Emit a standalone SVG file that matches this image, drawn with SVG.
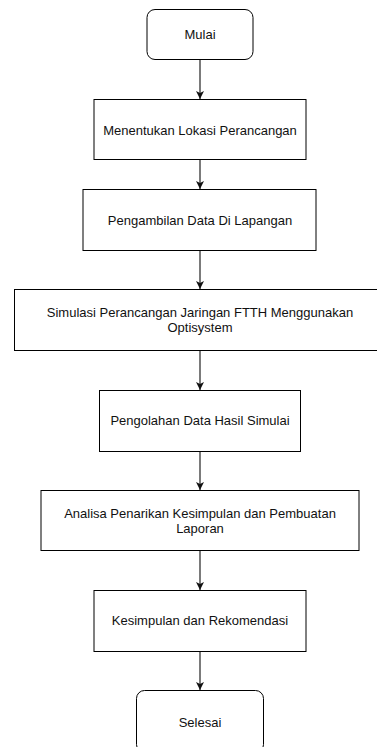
<svg xmlns="http://www.w3.org/2000/svg" width="377" height="747" viewBox="0 0 377 747">
<defs>
<style>
.box{fill:#fff;stroke:#000;stroke-width:1}
.lbl{font-family:"Liberation Sans",Arial,sans-serif;font-size:13px;fill:#111;text-anchor:middle}
.edge{stroke:#333;stroke-width:1.3;fill:none}
</style>
<marker id="arr" markerWidth="10" markerHeight="10" refX="8" refY="4" orient="auto" markerUnits="userSpaceOnUse">
<path d="M0,0 L8,4 L0,8 L2,4 Z" fill="#111"/>
</marker>
</defs>
<rect width="377" height="747" fill="#fff"/>
<g id="connectors">
<line class="edge" x1="200" y1="59.5" x2="200" y2="99" marker-end="url(#arr)"/>
<line class="edge" x1="200" y1="159.5" x2="200" y2="189" marker-end="url(#arr)"/>
<line class="edge" x1="200" y1="250.5" x2="200" y2="289" marker-end="url(#arr)"/>
<line class="edge" x1="200" y1="350.5" x2="200" y2="390" marker-end="url(#arr)"/>
<line class="edge" x1="200" y1="451.5" x2="200" y2="490" marker-end="url(#arr)"/>
<line class="edge" x1="200" y1="550.5" x2="200" y2="590" marker-end="url(#arr)"/>
<line class="edge" x1="200" y1="651.5" x2="200" y2="690" marker-end="url(#arr)"/>
</g>
<g id="mulai">
<rect class="box" x="147" y="9.5" width="106" height="50" rx="8"/>
<text class="lbl" x="200" y="38.5">Mulai</text>
</g>
<g id="lokasi">
<rect class="box" x="94" y="99.5" width="212" height="60"/>
<text class="lbl" x="200" y="134.5">Menentukan Lokasi Perancangan</text>
</g>
<g id="data">
<rect class="box" x="83" y="189.5" width="233" height="61"/>
<text class="lbl" x="200" y="224.5">Pengambilan Data Di Lapangan</text>
</g>
<g id="simulasi">
<rect class="box" x="14.5" y="289.5" width="372" height="61"/>
<text class="lbl" x="200" y="317">Simulasi Perancangan Jaringan FTTH Menggunakan</text>
<text class="lbl" x="200" y="332">Optisystem</text>
</g>
<g id="pengolahan">
<rect class="box" x="99.5" y="390.5" width="201" height="61"/>
<text class="lbl" x="200" y="425">Pengolahan Data Hasil Simulai</text>
</g>
<g id="analisa">
<rect class="box" x="41" y="490.5" width="318" height="60"/>
<text class="lbl" x="200" y="518">Analisa Penarikan Kesimpulan dan Pembuatan</text>
<text class="lbl" x="200" y="533">Laporan</text>
</g>
<g id="kesimpulan">
<rect class="box" x="94" y="590.5" width="212" height="61"/>
<text class="lbl" x="200" y="625">Kesimpulan dan Rekomendasi</text>
</g>
<g id="selesai">
<rect class="box" x="136.5" y="690.5" width="127" height="62" rx="8"/>
<text class="lbl" x="200" y="726.5">Selesai</text>
</g>
</svg>
